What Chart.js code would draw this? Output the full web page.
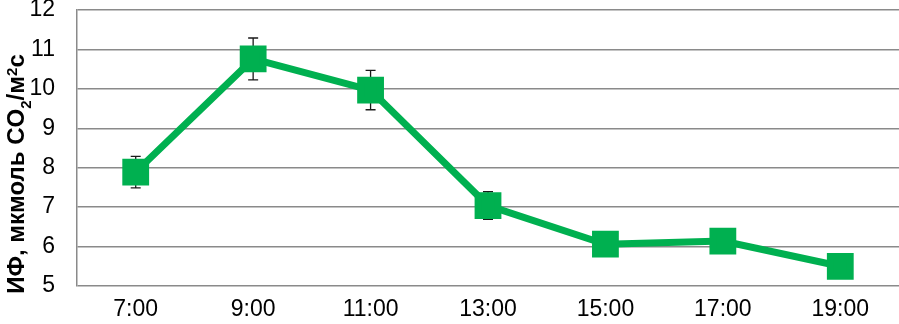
<!DOCTYPE html>
<html>
<head>
<meta charset="utf-8">
<script src="https://cdn.jsdelivr.net/npm/chart.js@4"></script>
<style>
  html, body { margin: 0; padding: 0; background: #fff; }
</style>
</head>
<body>
<canvas id="chart" width="899" height="324"></canvas>
<script>
const hours = ["7:00", "9:00", "11:00", "13:00", "15:00", "17:00", "19:00"];
const ifValues = [7.89, 10.76, 9.97, 7.04, 6.06, 6.14, 5.5];
const ifErrors = [0.4, 0.53, 0.5, 0.35, 0.3, 0.3, 0.27];
const yTicks = [5, 6, 7, 8, 9, 10, 11, 12];
// axis title pieces: [text, baseline shift]  (sub / superscript)
const yTitleParts = [["ИФ, мкмоль CO", 0], ["2", 1], ["/м", 0], ["2", -1], ["с", 0]];

// error bars drawn under the markers, positioned by the chart scales
const errorBars = {
  id: "errorBars",
  beforeDatasetsDraw(chart) {
    const ctx = chart.ctx;
    const x = chart.scales.x;
    const y = chart.scales.y;
    ctx.save();
    ctx.strokeStyle = "#1a1a1a";
    ctx.lineWidth = 1.3;
    ifValues.forEach((v, i) => {
      const px = x.getPixelForValue(i);
      const top = y.getPixelForValue(v + ifErrors[i]);
      const bot = y.getPixelForValue(v - ifErrors[i]);
      ctx.beginPath();
      ctx.moveTo(px, top);
      ctx.lineTo(px, bot);
      ctx.moveTo(px - 5, top);
      ctx.lineTo(px + 5, top);
      ctx.moveTo(px - 5, bot);
      ctx.lineTo(px + 5, bot);
      ctx.stroke();
    });
    ctx.restore();
  },
};

// rotated y title with real sub/superscript
const yTitle = {
  id: "yTitle",
  afterDraw(chart) {
    const ctx = chart.ctx;
    const big = "bold 24px 'Liberation Sans', Arial";
    const small = "bold 15px 'Liberation Sans', Arial";
    ctx.save();
    let total = 0;
    yTitleParts.forEach(([t, s]) => {
      ctx.font = s ? small : big;
      total += ctx.measureText(t).width;
    });
    ctx.translate(24, 174);
    ctx.rotate(-Math.PI / 2);
    ctx.fillStyle = "#000";
    ctx.textBaseline = "alphabetic";
    let x = -total / 2;
    yTitleParts.forEach(([t, s]) => {
      ctx.font = s ? small : big;
      ctx.fillText(t, x, s * 7);
      x += ctx.measureText(t).width;
    });
    ctx.restore();
  },
};

const ctx = document.getElementById("chart").getContext("2d");
new Chart(ctx, {
  type: "line",
  data: {
    labels: hours,
    datasets: [
      {
        data: ifValues,
        borderColor: "#00B050",
        backgroundColor: "#00B050",
        borderWidth: 7,
        pointStyle: "rect",
        pointRadius: 14,
        pointHoverRadius: 14,
        tension: 0,
        clip: false,
      },
    ],
  },
  options: {
    animation: false,
    responsive: false,
    devicePixelRatio: 1,
    layout: { autoPadding: false, padding: { top: 10, right: 0, left: 0, bottom: 0 } },
    plugins: {
      legend: { display: false },
      tooltip: { enabled: false },
    },
    scales: {
      x: {
        offset: true,
        grid: { display: false, drawTicks: false },
        border: { display: false },
        ticks: {
          color: "#000",
          padding: 10,
          font: { family: "'Liberation Sans', Arial", size: 23 },
        },
        afterFit(scale) {
          scale.height = 38;
          scale.paddingLeft = 0;
          scale.paddingRight = 0;
        },
      },
      y: {
        min: 5,
        max: 12,
        afterBuildTicks(scale) { scale.ticks = yTicks.map((v) => ({ value: v })); },
        grid: { color: "#8a8a8a", lineWidth: 1.5, drawTicks: false },
        border: { display: true, color: "#8a8a8a", width: 1.5 },
        ticks: {
          color: "#000",
          padding: 22,
          font: { family: "'Liberation Sans', Arial", size: 23 },
        },
        afterFit(scale) {
          scale.width = 77;
          scale.paddingTop = 0;
          scale.paddingBottom = 0;
        },
      },
    },
  },
  plugins: [errorBars, yTitle],
});
</script>
</body>
</html>
